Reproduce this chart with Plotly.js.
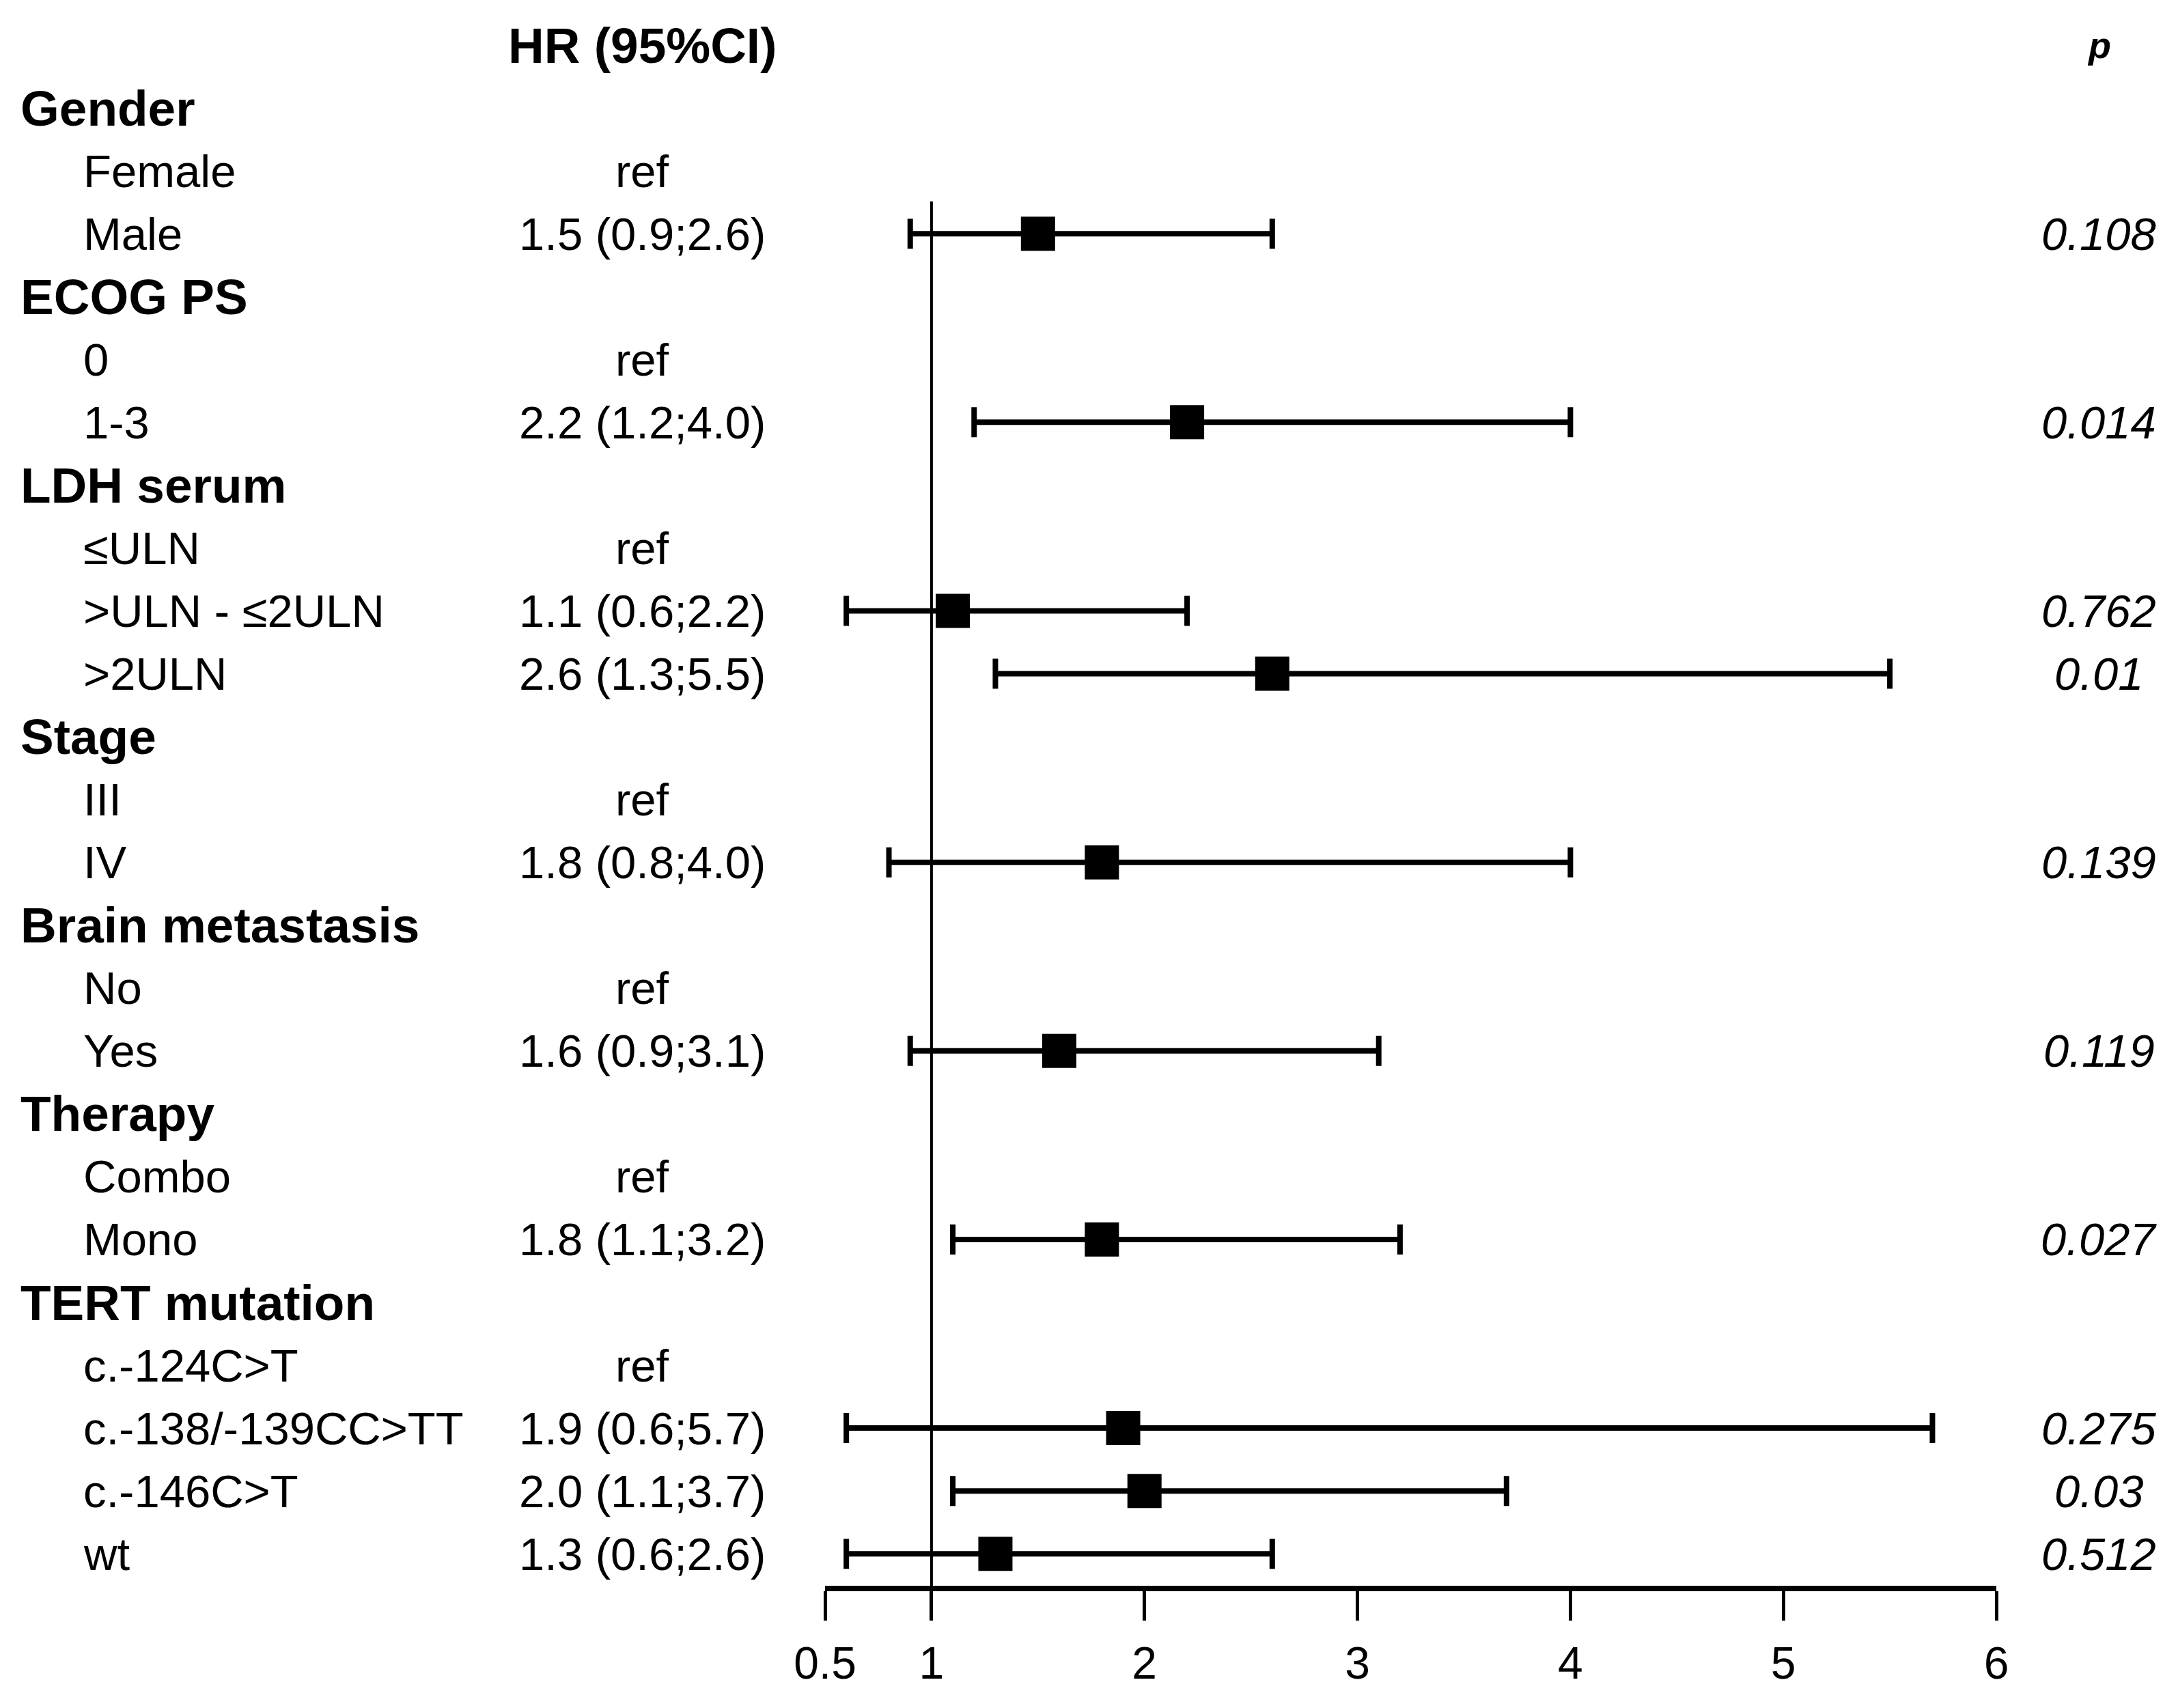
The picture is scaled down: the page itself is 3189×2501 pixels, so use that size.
<!DOCTYPE html>
<html>
<head>
<meta charset="utf-8">
<script src="https://cdn.plot.ly/plotly-3.0.1.min.js"></script>
<style>html,body{margin:0;padding:0;background:#fff;}#chart{width:3189px;height:2501px;}</style>
</head>
<body>
<div id="chart"></div>
<script>
// ---- data ----
const rowLabels = ["Gender","Female","Male","ECOG PS","0","1-3","LDH serum","≤ULN",">ULN - ≤2ULN",">2ULN","Stage","III","IV","Brain metastasis","No","Yes","Therapy","Combo","Mono","TERT mutation","c.-124C>T","c.-138/-139CC>TT","c.-146C>T","wt"];
const rowIsGroup = [true,false,false,true,false,false,true,false,false,false,true,false,false,true,false,false,true,false,false,true,false,false,false,false];
const hrValues = [null,null,1.5,null,null,2.2,null,null,1.1,2.6,null,null,1.8,null,null,1.6,null,null,1.8,null,null,1.9,2.0,1.3];
const ciLow    = [null,null,0.9,null,null,1.2,null,null,0.6,1.3,null,null,0.8,null,null,0.9,null,null,1.1,null,null,0.6,1.1,0.6];
const ciHigh   = [null,null,2.6,null,null,4.0,null,null,2.2,5.5,null,null,4.0,null,null,3.1,null,null,3.2,null,null,5.7,3.7,2.6];
const pValues  = [null,null,"0.108",null,null,"0.014",null,null,"0.762","0.01",null,null,"0.139",null,null,"0.119",null,null,"0.027",null,null,"0.275","0.03","0.512"];
const xTicks = [0.5,1,2,3,4,5,6];
const xTickText = ["0.5","1","2","3","4","5","6"];
const refValue = 1;

// ---- layout helpers ----
const W = 3189, H = 2501;
const FONT = "Liberation Sans, Arial, Helvetica, sans-serif";
const px = v => v / W;
const py = v => (H - v) / H;

const ann = [];
function addText(text, xPix, row, opts) {
  ann.push(Object.assign({
    text: text, xref: "paper", yref: "y", x: px(xPix), y: row,
    showarrow: false, xanchor: "left", yanchor: "middle",
    font: {family: FONT, size: 67, color: "#000"}
  }, opts || {}));
}

// headers
addText("<b>HR (95%CI)</b>", 940, 0, {xanchor: "center", font: {family: FONT, size: 73, color: "#000"}});
addText("<b><i>p</i></b>", 3073, 0, {xanchor: "center", font: {family: FONT, size: 54, color: "#000"}});

const ptX = [], ptY = [], errPlus = [], errMinus = [];
rowLabels.forEach((lab, i) => {
  const row = i + 1;
  if (rowIsGroup[i]) {
    addText("<b>" + lab + "</b>", 28, row, {font: {family: FONT, size: 73, color: "#000"}});
    return;
  }
  addText(lab, 120, row);
  if (hrValues[i] === null) {
    addText("ref", 940, row, {xanchor: "center"});
  } else {
    const t = hrValues[i].toFixed(1) + " (" + ciLow[i].toFixed(1) + ";" + ciHigh[i].toFixed(1) + ")";
    addText(t, 940, row, {xanchor: "center"});
    addText("<i>" + pValues[i] + "</i>", 3073, row, {xanchor: "center"});
    ptX.push(hrValues[i]);
    ptY.push(row);
    errPlus.push(ciHigh[i] - hrValues[i]);
    errMinus.push(hrValues[i] - ciLow[i]);
  }
});

const trace = {
  type: "scatter", mode: "markers", x: ptX, y: ptY,
  marker: {symbol: "square", size: 50, color: "#000", line: {width: 0}},
  error_x: {type: "data", symmetric: false, array: errPlus, arrayminus: errMinus,
            color: "#000", thickness: 8, width: 22},
  hoverinfo: "skip", cliponaxis: false
};

const axisBottomPix = 2322;
const layout = {
  width: W, height: H,
  margin: {l: 0, r: 0, t: 0, b: 0, pad: 0},
  paper_bgcolor: "#fff", plot_bgcolor: "rgba(0,0,0,0)",
  showlegend: false,
  xaxis: {
    domain: [px(1208), px(2923)], range: [0.5, 6],
    showgrid: false, zeroline: false,
    showline: true, linecolor: "#000", linewidth: 8,
    ticks: "outside", ticklen: 43, tickwidth: 5, tickcolor: "#000",
    tickmode: "array", tickvals: xTicks, ticktext: xTickText,
    tickfont: {family: FONT, size: 66, color: "#000"},
    ticklabelstandoff: 6,
    fixedrange: true
  },
  yaxis: {
    domain: [py(axisBottomPix), 1],
    range: [(axisBottomPix - 66) / 92.05, -66 / 92.05],
    visible: false, fixedrange: true
  },
  shapes: [{
    type: "line", xref: "x", yref: "paper", x0: refValue, x1: refValue,
    y0: py(295), y1: py(2365), line: {color: "#000", width: 4}, layer: "below"
  }],
  annotations: ann
};

Plotly.newPlot("chart", [trace], layout, {displayModeBar: false, staticPlot: true});
</script>
</body>
</html>
